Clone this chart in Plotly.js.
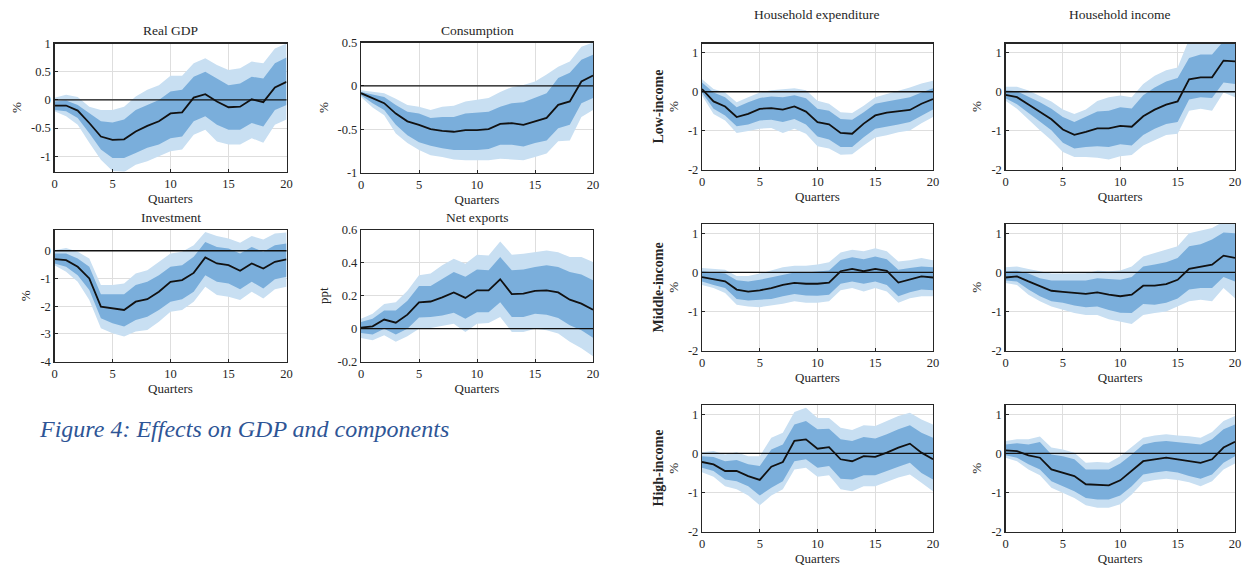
<!DOCTYPE html>
<html>
<head>
<meta charset="utf-8">
<script src="https://cdn.plot.ly/plotly-3.0.1.min.js"></script>
<style>html,body{margin:0;padding:0;background:#fff;}#chart{width:1244px;height:566px;}</style>
</head>
<body>
<div id="chart"></div>
<script>
// ---------------- DATA ----------------
const quarters = [0,1,2,3,4,5,6,7,8,9,10,11,12,13,14,15,16,17,18,19,20];
const xTickVals = [0,5,10,15,20];
const xTickText = ["0","5","10","15","20"];

// Real GDP
const gdpMed  = [-0.1,-0.1,-0.19,-0.41,-0.65,-0.71,-0.7,-0.56,-0.46,-0.38,-0.24,-0.22,0.04,0.1,-0.03,-0.13,-0.12,0.01,-0.04,0.22,0.32];
const gdpIn68Hi = [-0.03,-0.01,-0.09,-0.24,-0.38,-0.4,-0.35,-0.18,-0.09,0,0.15,0.18,0.41,0.5,0.38,0.26,0.29,0.41,0.38,0.65,0.75];
const gdpIn68Lo = [-0.18,-0.2,-0.32,-0.59,-0.88,-1.03,-1.03,-0.94,-0.85,-0.79,-0.68,-0.65,-0.38,-0.29,-0.44,-0.53,-0.53,-0.41,-0.47,-0.18,-0.09];
const gdpOut90Hi = [0.04,0.09,0.05,-0.12,-0.18,-0.18,-0.12,0.06,0.18,0.26,0.43,0.43,0.65,0.74,0.62,0.53,0.56,0.68,0.65,0.91,1.0];
const gdpOut90Lo = [-0.2,-0.29,-0.44,-0.76,-1.06,-1.26,-1.28,-1.15,-1.09,-1.0,-0.91,-0.88,-0.62,-0.53,-0.74,-0.79,-0.79,-0.68,-0.76,-0.44,-0.35];

// Consumption
const conMed = [-0.085,-0.14,-0.2,-0.32,-0.41,-0.45,-0.5,-0.52,-0.53,-0.51,-0.51,-0.5,-0.44,-0.43,-0.45,-0.41,-0.37,-0.22,-0.18,0.05,0.12];
const conIn68Hi = [-0.07,-0.1,-0.13,-0.22,-0.3,-0.32,-0.37,-0.36,-0.36,-0.32,-0.31,-0.3,-0.24,-0.2,-0.19,-0.14,-0.085,0.09,0.15,0.3,0.36];
const conIn68Lo = [-0.11,-0.2,-0.28,-0.45,-0.57,-0.65,-0.69,-0.72,-0.74,-0.74,-0.74,-0.73,-0.68,-0.68,-0.7,-0.66,-0.63,-0.49,-0.45,-0.2,-0.14];
const conOut90Hi = [-0.05,-0.07,-0.085,-0.15,-0.22,-0.24,-0.28,-0.24,-0.23,-0.18,-0.16,-0.14,-0.07,-0.015,0.01,0.05,0.13,0.22,0.28,0.45,0.5];
const conOut90Lo = [-0.13,-0.25,-0.34,-0.55,-0.66,-0.74,-0.8,-0.82,-0.85,-0.86,-0.86,-0.86,-0.84,-0.85,-0.86,-0.82,-0.78,-0.64,-0.63,-0.36,-0.28];

// Investment
const invMed = [-0.3,-0.34,-0.58,-1.0,-2.02,-2.08,-2.14,-1.84,-1.75,-1.48,-1.12,-1.06,-0.8,-0.24,-0.46,-0.52,-0.72,-0.46,-0.64,-0.4,-0.31];
const invIn68Hi = [-0.1,-0.1,-0.28,-0.58,-1.57,-1.57,-1.57,-1.24,-1.12,-0.88,-0.58,-0.52,-0.22,0.32,0.14,0.08,-0.1,0.14,-0.04,0.2,0.26];
const invIn68Lo = [-0.46,-0.58,-0.88,-1.42,-2.44,-2.62,-2.74,-2.5,-2.38,-2.14,-1.84,-1.75,-1.48,-0.88,-1.12,-1.18,-1.39,-1.12,-1.36,-1.03,-0.94];
const invOut90Hi = [0.02,0.1,-0.04,-0.28,-1.24,-1.24,-1.18,-0.82,-0.7,-0.4,-0.1,-0.04,0.2,0.68,0.53,0.44,0.29,0.53,0.41,0.62,0.66];
const invOut90Lo = [-0.52,-0.76,-1.12,-1.78,-2.8,-2.98,-3.1,-2.92,-2.86,-2.56,-2.2,-2.14,-1.84,-1.3,-1.6,-1.66,-1.78,-1.48,-1.72,-1.39,-1.3];

// Net exports
const nxMed = [0.006,0.014,0.055,0.036,0.085,0.16,0.165,0.19,0.22,0.187,0.233,0.233,0.3,0.21,0.213,0.23,0.233,0.22,0.176,0.152,0.115];
const nxIn68Hi = [0.04,0.06,0.11,0.11,0.17,0.26,0.26,0.3,0.345,0.315,0.36,0.355,0.435,0.355,0.36,0.375,0.385,0.375,0.345,0.33,0.295];
const nxIn68Lo = [-0.026,-0.036,0.0,-0.036,0.0,0.067,0.07,0.08,0.097,0.06,0.1,0.1,0.16,0.07,0.07,0.09,0.085,0.065,0.02,-0.01,-0.055];
const nxOut90Hi = [0.06,0.09,0.15,0.16,0.23,0.325,0.335,0.385,0.425,0.395,0.45,0.445,0.53,0.45,0.455,0.465,0.475,0.465,0.435,0.435,0.405];
const nxOut90Lo = [-0.057,-0.07,-0.04,-0.08,-0.047,0.0,0.004,0.016,0.03,-0.02,0.03,0.034,0.07,-0.02,-0.02,0.0,-0.01,-0.03,-0.08,-0.12,-0.168];

// Low-income household expenditure
const lowExpMed = [0.07,-0.25,-0.38,-0.65,-0.57,-0.44,-0.42,-0.46,-0.38,-0.51,-0.78,-0.84,-1.06,-1.08,-0.82,-0.61,-0.54,-0.51,-0.47,-0.31,-0.19];
const lowExpIn68Hi = [0.24,-0.02,-0.14,-0.4,-0.27,-0.16,-0.12,-0.14,-0.09,-0.17,-0.44,-0.49,-0.7,-0.72,-0.53,-0.31,-0.25,-0.2,-0.14,-0.02,0.09];
const lowExpIn68Lo = [-0.02,-0.44,-0.61,-0.89,-0.84,-0.74,-0.72,-0.78,-0.7,-0.84,-1.15,-1.23,-1.42,-1.42,-1.17,-0.95,-0.89,-0.84,-0.78,-0.61,-0.46];
const lowExpOut90Hi = [0.32,0.07,-0.02,-0.27,-0.14,-0.02,0.04,0.07,0.09,0.04,-0.23,-0.31,-0.53,-0.55,-0.36,-0.14,-0.06,0.03,0.11,0.21,0.28];
const lowExpOut90Lo = [-0.1,-0.57,-0.74,-1.06,-1.01,-0.95,-0.93,-1.06,-0.95,-1.08,-1.4,-1.46,-1.62,-1.61,-1.38,-1.18,-1.12,-1.04,-1.0,-0.81,-0.65];

// Low-income household income
const lowIncMed = [-0.08,-0.14,-0.33,-0.53,-0.71,-0.97,-1.11,-1.03,-0.94,-0.94,-0.88,-0.9,-0.63,-0.46,-0.33,-0.25,0.32,0.37,0.37,0.8,0.78];
const lowIncIn68Hi = [0.04,0.01,-0.13,-0.27,-0.44,-0.65,-0.78,-0.65,-0.51,-0.49,-0.4,-0.43,-0.09,0.11,0.26,0.35,0.87,0.96,0.96,1.3,1.3];
const lowIncIn68Lo = [-0.17,-0.32,-0.53,-0.76,-0.99,-1.31,-1.46,-1.42,-1.4,-1.42,-1.35,-1.38,-1.11,-0.95,-0.83,-0.78,-0.2,-0.14,-0.16,0.24,0.2];
const lowIncOut90Hi = [0.13,0.13,0.03,-0.1,-0.25,-0.46,-0.57,-0.46,-0.24,-0.14,-0.1,-0.14,0.2,0.41,0.55,0.62,1.35,1.4,1.4,1.6,1.6];
const lowIncOut90Lo = [-0.23,-0.44,-0.72,-0.99,-1.25,-1.55,-1.68,-1.68,-1.7,-1.74,-1.66,-1.63,-1.38,-1.25,-1.11,-1.08,-0.49,-0.44,-0.49,-0.02,-0.14];

// Middle-income household expenditure
const midExpMed = [-0.12,-0.17,-0.23,-0.44,-0.49,-0.46,-0.4,-0.32,-0.27,-0.29,-0.29,-0.26,0.03,0.09,0.03,0.09,0.04,-0.26,-0.17,-0.1,-0.13];
const midExpIn68Hi = [0.03,0.0,-0.03,-0.2,-0.23,-0.19,-0.12,-0.06,0.0,0.0,0.02,0.05,0.32,0.39,0.34,0.41,0.34,0.07,0.11,0.15,0.13];
const midExpIn68Lo = [-0.23,-0.32,-0.4,-0.68,-0.72,-0.7,-0.68,-0.61,-0.55,-0.59,-0.6,-0.57,-0.29,-0.23,-0.29,-0.23,-0.32,-0.61,-0.51,-0.44,-0.46];
const midExpOut90Hi = [0.11,0.09,0.07,-0.09,-0.09,-0.03,0.05,0.13,0.17,0.17,0.2,0.26,0.51,0.58,0.54,0.62,0.54,0.28,0.31,0.37,0.31];
const midExpOut90Lo = [-0.32,-0.4,-0.53,-0.83,-0.87,-0.89,-0.85,-0.8,-0.74,-0.78,-0.78,-0.74,-0.46,-0.4,-0.49,-0.4,-0.49,-0.78,-0.66,-0.61,-0.61];

// Middle-income household income
const midIncMed = [-0.13,-0.1,-0.23,-0.36,-0.47,-0.5,-0.53,-0.55,-0.51,-0.57,-0.61,-0.57,-0.34,-0.34,-0.3,-0.19,0.09,0.15,0.2,0.43,0.37];
const midIncIn68Hi = [0.03,0.04,-0.03,-0.15,-0.21,-0.21,-0.21,-0.21,-0.15,-0.17,-0.19,-0.12,0.15,0.2,0.26,0.37,0.67,0.72,0.84,1.02,1.0];
const midIncIn68Lo = [-0.21,-0.23,-0.44,-0.61,-0.74,-0.78,-0.85,-0.89,-0.87,-0.96,-1.03,-1.04,-0.81,-0.83,-0.78,-0.67,-0.44,-0.4,-0.4,-0.12,-0.23];
const midIncOut90Hi = [0.13,0.15,0.09,0.03,-0.03,-0.03,-0.02,-0.02,0.04,0.03,0.05,0.15,0.41,0.5,0.58,0.67,1.0,1.07,1.14,1.3,1.3];
const midIncOut90Lo = [-0.27,-0.32,-0.57,-0.74,-0.87,-0.96,-1.04,-1.09,-1.09,-1.2,-1.26,-1.32,-1.09,-1.04,-1.0,-0.87,-0.74,-0.7,-0.74,-0.4,-0.66];

// High-income household expenditure
const highExpMed = [-0.22,-0.28,-0.45,-0.45,-0.58,-0.68,-0.34,-0.22,0.32,0.36,0.12,0.16,-0.15,-0.2,-0.07,-0.09,0.02,0.15,0.25,0.02,-0.15];
const highExpIn68Hi = [-0.07,-0.09,-0.2,-0.17,-0.28,-0.32,0.1,0.23,0.74,0.83,0.62,0.63,0.36,0.32,0.42,0.38,0.49,0.62,0.72,0.53,0.4];
const highExpIn68Lo = [-0.37,-0.45,-0.67,-0.71,-0.84,-1.08,-0.88,-0.71,-0.2,-0.15,-0.37,-0.32,-0.65,-0.67,-0.56,-0.56,-0.45,-0.34,-0.24,-0.5,-0.67];
const highExpOut90Hi = [0.03,0.06,-0.03,0.03,-0.07,-0.07,0.4,0.53,1.06,1.17,0.91,0.91,0.66,0.6,0.72,0.7,0.83,0.96,1.04,0.87,0.74];
const highExpOut90Lo = [-0.48,-0.6,-0.84,-0.92,-1.08,-1.33,-1.08,-0.92,-0.41,-0.37,-0.6,-0.56,-0.92,-0.97,-0.84,-0.84,-0.74,-0.62,-0.54,-0.75,-0.97];

// High-income household income
const highIncMed = [0.08,0.06,-0.05,-0.11,-0.41,-0.49,-0.58,-0.79,-0.81,-0.82,-0.69,-0.44,-0.2,-0.15,-0.11,-0.15,-0.2,-0.24,-0.15,0.15,0.3];
const highIncIn68Hi = [0.23,0.26,0.23,0.29,-0.03,-0.07,-0.15,-0.41,-0.41,-0.41,-0.26,-0.03,0.23,0.29,0.32,0.29,0.26,0.23,0.36,0.62,0.74];
const highIncIn68Lo = [-0.05,-0.11,-0.28,-0.41,-0.71,-0.84,-0.97,-1.14,-1.18,-1.18,-1.08,-0.84,-0.54,-0.49,-0.45,-0.49,-0.58,-0.65,-0.54,-0.24,-0.07];
const highIncOut90Hi = [0.32,0.36,0.36,0.43,0.15,0.1,0.02,-0.24,-0.22,-0.24,-0.07,0.17,0.4,0.46,0.49,0.46,0.44,0.4,0.55,0.83,0.96];
const highIncOut90Lo = [-0.11,-0.2,-0.41,-0.56,-0.88,-1.0,-1.14,-1.33,-1.39,-1.39,-1.3,-1.05,-0.74,-0.68,-0.65,-0.68,-0.74,-0.84,-0.71,-0.41,-0.26];

// Tick labels (y)
const tickGdpVals = [-1,-0.5,0,0.5,1];          const tickGdpText = ["-1","-0.5","0","0.5","1"];
const tickConVals = [-1,-0.5,0,0.5];            const tickConText = ["-1","-0.5","0","0.5"];
const tickInvVals = [-4,-3,-2,-1,0];            const tickInvText = ["-4","-3","-2","-1","0"];
const tickNxVals  = [-0.2,0,0.2,0.4,0.6];       const tickNxText  = ["-0.2","0","0.2","0.4","0.6"];
const tickHhVals  = [-2,-1,0,1];                const tickHhText  = ["-2","-1","0","1"];

// Panel titles / labels
const panelTitles = ["Real GDP","Consumption","Investment","Net exports","Household expenditure","Household income"];
const rowLabels = ["Low-income","Middle-income","High-income"];
const caption = "Figure 4: Effects on GDP and components";

// ---------------- LAYOUT / DRAW ----------------
const W = 1244, H = 566;
const FONT = "'Liberation Serif', 'DejaVu Serif', serif";
const TXT = "#262626";
const DARK = "rgb(122,174,219)";
const LIGHT = "rgb(200,223,242)";

// plot area boxes in pixels [left, right, top, bottom]
const panels = [
  {box:[54.5,286.5,43.5,171.5], yr:[-1.27,1.0], med:gdpMed, ih:gdpIn68Hi, il:gdpIn68Lo, oh:gdpOut90Hi, ol:gdpOut90Lo, tv:tickGdpVals, tt:tickGdpText, ylab:"%"},
  {box:[361,593,42.5,172.5], yr:[-1.0,0.5], med:conMed, ih:conIn68Hi, il:conIn68Lo, oh:conOut90Hi, ol:conOut90Lo, tv:tickConVals, tt:tickConText, ylab:"%"},
  {box:[54.5,286.5,230,361.5], yr:[-4,0.75], med:invMed, ih:invIn68Hi, il:invIn68Lo, oh:invOut90Hi, ol:invOut90Lo, tv:tickInvVals, tt:tickInvText, ylab:"%"},
  {box:[361,593,230,361.5], yr:[-0.2,0.6], med:nxMed, ih:nxIn68Hi, il:nxIn68Lo, oh:nxOut90Hi, ol:nxOut90Lo, tv:tickNxVals, tt:tickNxText, ylab:"ppt"},
  {box:[702,933,43.5,169.5], yr:[-2,1.24], med:lowExpMed, ih:lowExpIn68Hi, il:lowExpIn68Lo, oh:lowExpOut90Hi, ol:lowExpOut90Lo, tv:tickHhVals, tt:tickHhText, ylab:"%"},
  {box:[1005.5,1235,43.5,169.5], yr:[-2,1.24], med:lowIncMed, ih:lowIncIn68Hi, il:lowIncIn68Lo, oh:lowIncOut90Hi, ol:lowIncOut90Lo, tv:tickHhVals, tt:tickHhText, ylab:"%"},
  {box:[702,933,224,350.5], yr:[-2,1.24], med:midExpMed, ih:midExpIn68Hi, il:midExpIn68Lo, oh:midExpOut90Hi, ol:midExpOut90Lo, tv:tickHhVals, tt:tickHhText, ylab:"%"},
  {box:[1005.5,1235,224,350.5], yr:[-2,1.24], med:midIncMed, ih:midIncIn68Hi, il:midIncIn68Lo, oh:midIncOut90Hi, ol:midIncOut90Lo, tv:tickHhVals, tt:tickHhText, ylab:"%"},
  {box:[702,933,405,531.5], yr:[-2,1.24], med:highExpMed, ih:highExpIn68Hi, il:highExpIn68Lo, oh:highExpOut90Hi, ol:highExpOut90Lo, tv:tickHhVals, tt:tickHhText, ylab:"%"},
  {box:[1005.5,1235,405,531.5], yr:[-2,1.24], med:highIncMed, ih:highIncIn68Hi, il:highIncIn68Lo, oh:highIncOut90Hi, ol:highIncOut90Lo, tv:tickHhVals, tt:tickHhText, ylab:"%"}
];

const px = x => x / W;
const py = y => 1 - y / H;

const traces = [];
const layout = {
  width: W, height: H,
  margin: {l:0, r:0, t:0, b:0},
  paper_bgcolor: "#fff", plot_bgcolor: "#fff",
  showlegend: false,
  font: {family: FONT, color: TXT, size: 12},
  annotations: [], shapes: []
};

const rev = a => a.slice().reverse();

panels.forEach((p, i) => {
  const n = i + 1;
  const xa = n === 1 ? "x" : "x" + n;
  const ya = n === 1 ? "y" : "y" + n;
  const xk = n === 1 ? "xaxis" : "xaxis" + n;
  const yk = n === 1 ? "yaxis" : "yaxis" + n;
  const [l, r, t, b] = p.box;

  layout[xk] = {
    domain: [px(l), px(r)], range: [0, 20], anchor: ya,
    tickvals: xTickVals, ticktext: xTickText,
    showgrid: true, gridcolor: "#dedede", gridwidth: 1,
    showline: true, linecolor: TXT, linewidth: 1.2, mirror: true,
    ticks: "inside", ticklen: 3, tickcolor: TXT,
    zeroline: false, fixedrange: true,
    tickfont: {family: FONT, size: 12.5, color: TXT},
    title: {text: "Quarters", font: {family: FONT, size: 13, color: TXT}, standoff: 4}
  };
  layout[yk] = {
    domain: [py(b), py(t)], range: p.yr, anchor: xa,
    tickvals: p.tv, ticktext: p.tt,
    showgrid: true, gridcolor: "#dedede", gridwidth: 1,
    showline: true, linecolor: TXT, linewidth: 1.2, mirror: true,
    ticks: "inside", ticklen: 3, tickcolor: TXT,
    zeroline: false, fixedrange: true,
    tickfont: {family: FONT, size: 12.5, color: TXT},
    title: {text: p.ylab, font: {family: FONT, size: 13, color: TXT}, standoff: 6}
  };

  // 90% band
  traces.push({
    type: "scatter", mode: "lines", x: quarters.concat(rev(quarters)), y: p.oh.concat(rev(p.ol)),
    xaxis: xa, yaxis: ya, fill: "toself", fillcolor: LIGHT, line: {width: 0, color: LIGHT}, hoverinfo: "skip"
  });
  // 68% band
  traces.push({
    type: "scatter", mode: "lines", x: quarters.concat(rev(quarters)), y: p.ih.concat(rev(p.il)),
    xaxis: xa, yaxis: ya, fill: "toself", fillcolor: DARK, line: {width: 0, color: DARK}, hoverinfo: "skip"
  });
  // median
  traces.push({
    type: "scatter", mode: "lines", x: quarters, y: p.med,
    xaxis: xa, yaxis: ya, line: {width: 1.8, color: "#111"}, hoverinfo: "skip"
  });
  // zero reference line
  layout.shapes.push({
    type: "line", xref: xa + " domain", yref: ya, x0: 0, x1: 1, y0: 0, y1: 0,
    line: {color: "#111", width: 1.4}, layer: "above"
  });
});

// panel titles
const titlePos = [[170.5,30],[477,30],[170.5,217],[477,217],[817,15],[1120,15]];
panelTitles.forEach((t, i) => {
  layout.annotations.push({
    text: t, xref: "paper", yref: "paper", x: px(titlePos[i][0]), y: py(titlePos[i][1]),
    xanchor: "center", yanchor: "middle", showarrow: false,
    font: {family: FONT, size: 13.5, color: TXT}
  });
});

// row labels
const rowY = [106.5, 287.5, 468.5];
rowLabels.forEach((t, i) => {
  layout.annotations.push({
    text: "<b>" + t + "</b>", xref: "paper", yref: "paper", x: px(658), y: py(rowY[i]),
    xanchor: "center", yanchor: "middle", showarrow: false, textangle: -90,
    font: {family: FONT, size: 14, color: TXT}
  });
});

// caption
layout.annotations.push({
  text: "<i>" + caption + "</i>", xref: "paper", yref: "paper", x: px(37), y: py(429),
  xanchor: "left", yanchor: "middle", showarrow: false,
  font: {family: FONT, size: 24, color: "#2E5596"}
});

Plotly.newPlot("chart", traces, layout, {displayModeBar: false, staticPlot: true});
</script>
</body>
</html>
